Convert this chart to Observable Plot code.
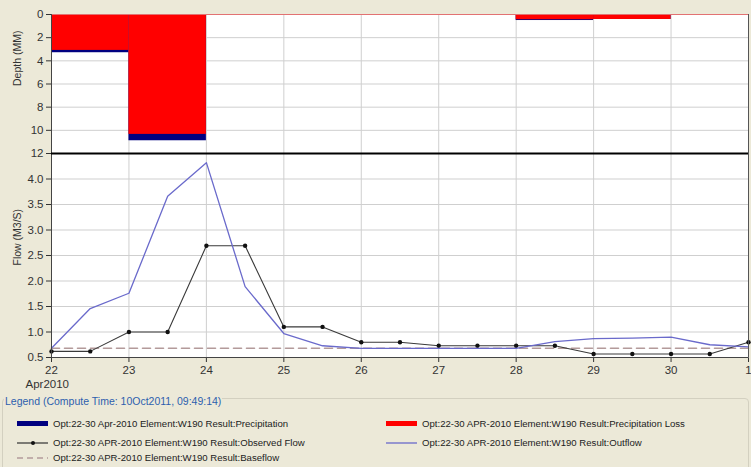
<!DOCTYPE html>
<html><head><meta charset="utf-8">
<script src="https://cdn.jsdelivr.net/npm/d3@7"></script>
<script src="https://cdn.jsdelivr.net/npm/@observablehq/plot@0.6"></script>
<style>
html,body{margin:0;padding:0;background:#ECE9D8;}
#wrap{position:relative;width:751px;height:467px;overflow:hidden;font-family:"Liberation Sans",Arial,sans-serif;}
#top{position:absolute;left:0;top:0;}
#bot{position:absolute;left:0;top:153px;}
#legbox{position:absolute;left:2px;top:398px;width:745px;height:80px;border:1px solid #d3d0c0;border-radius:4px;}
#legtitle{position:absolute;left:4px;top:395px;font-size:10.5px;color:#2d5fae;background:#ECE9D8;padding:0 1px;line-height:13px;}
.item{position:absolute;font-size:9.6px;color:#222;line-height:12px;white-space:nowrap;}
.item svg{position:absolute;left:0;top:2px;}
.item span{position:absolute;left:36px;top:0;}
</style>
</head><body>
<div id="wrap">
  <div id="top"></div>
  <div id="bot"></div>
  <div id="legbox"></div>
  <div id="legtitle">Legend (Compute Time: 10Oct2011, 09:49:14)</div>
  <div id="legend"></div>
</div>
<script>
// ---- data ----
const intervalStarts = ["2010-04-22","2010-04-23","2010-04-24","2010-04-25","2010-04-26","2010-04-27","2010-04-28","2010-04-29","2010-04-30"];
const precipitation  = [3.3, 10.9, 0, 0, 0, 0, 0.52, 0.43, 0];
const precipLoss     = [3.1, 10.35, 0, 0, 0, 0, 0.45, 0.43, 0];

const times = ["2010-04-22T00:00","2010-04-22T12:00","2010-04-23T00:00","2010-04-23T12:00","2010-04-24T00:00","2010-04-24T12:00",
  "2010-04-25T00:00","2010-04-25T12:00","2010-04-26T00:00","2010-04-26T12:00","2010-04-27T00:00","2010-04-27T12:00",
  "2010-04-28T00:00","2010-04-28T12:00","2010-04-29T00:00","2010-04-29T12:00","2010-04-30T00:00","2010-04-30T12:00","2010-05-01T00:00"];
const observedFlow = [0.62,0.62,1.00,1.00,2.69,2.69,1.10,1.10,0.80,0.80,0.73,0.73,0.73,0.73,0.57,0.57,0.57,0.57,0.80];
const outflow      = [0.68,1.46,1.76,3.66,4.32,1.89,0.97,0.73,0.68,0.68,0.68,0.68,0.68,0.81,0.87,0.88,0.90,0.75,0.71];
const baseflow     = [0.68,0.68,0.68,0.68,0.68,0.68,0.68,0.68,0.68,0.68,0.68,0.68,0.68,0.68,0.68,0.68,0.68,0.68,0.68];

const dayTicks = ["2010-04-22","2010-04-23","2010-04-24","2010-04-25","2010-04-26","2010-04-27","2010-04-28","2010-04-29","2010-04-30","2010-05-01"];
const depthTicks = [0,2,4,6,8,10,12];
const flowTicks = [0.5,1.0,1.5,2.0,2.5,3.0,3.5,4.0];

const legendItems = [
  {label:"Opt:22-30 Apr-2010 Element:W190 Result:Precipitation", kind:"bar", color:"#000080", col:0, row:0},
  {label:"Opt:22-30 APR-2010 Element:W190 Result:Observed Flow", kind:"dotline", color:"#333333", col:0, row:1},
  {label:"Opt:22-30 APR-2010 Element:W190 Result:Baseflow", kind:"dash", color:"#b39a9a", col:0, row:2},
  {label:"Opt:22-30 APR-2010 Element:W190 Result:Precipitation Loss", kind:"bar", color:"#ff0000", col:1, row:0},
  {label:"Opt:22-30 APR-2010 Element:W190 Result:Outflow", kind:"line", color:"#6a6acb", col:1, row:1}
];

// ---- derived tables ----
const D = s => new Date(s + (s.length > 10 ? ":00Z" : "T00:00:00Z"));
const bars = intervalStarts.map((s, i) => ({x1: D(s), x2: d3.utcDay.offset(D(s), 1), precip: precipitation[i], loss: precipLoss[i]}));
const flows = times.map((t, i) => ({t: D(t), obs: observedFlow[i], out: outflow[i], base: baseflow[i]}));
const ticks = dayTicks.map(D);
const xDomain = [ticks[0], ticks[ticks.length - 1]];
const font = {fontFamily: '"Liberation Sans", Arial, sans-serif', fontSize: "11.5px", color: "#333", background: "transparent", overflow: "visible"};
const grid = "#cfcfcf";

// ---- top panel (depth) ----
const depthChart = Plot.plot({
  width: 751, height: 160, marginLeft: 51, marginRight: 3, marginTop: 14, marginBottom: 7,
  style: font,
  x: {type: "utc", domain: xDomain, axis: null},
  y: {domain: [0, 12], reverse: true, ticks: depthTicks, tickSize: 5, tickPadding: 3, label: null, tickFormat: d => String(d)},
  marks: [
    Plot.frame({fill: "white", stroke: null}),
    Plot.ruleX(ticks, {stroke: grid}),
    Plot.ruleY(depthTicks.slice(1, -1), {stroke: grid}),
    Plot.rect(bars, {x1: "x1", x2: "x2", y1: 0, y2: "precip", fill: "#000080"}),
    Plot.rect(bars, {x1: "x1", x2: "x2", y1: 0, y2: "loss", fill: "#ff0000"}),
    Plot.ruleY([0], {stroke: "#e27272", strokeWidth: 1.2}),
    Plot.ruleX([xDomain[0]], {stroke: "#444"}),
    Plot.ruleX([xDomain[1]], {stroke: "#555"}),
    Plot.text(["Depth (MM)"], {frameAnchor: "left", dx: -34, dy: 2, rotate: -90, fontSize: 10.5, fill: "#333"})
  ]
});
document.getElementById("top").appendChild(depthChart);

// ---- bottom panel (flow) ----
const flowChart = Plot.plot({
  width: 751, height: 244, marginLeft: 51, marginRight: 3, marginTop: 0, marginBottom: 40,
  style: font,
  x: {type: "utc", domain: xDomain, ticks: ticks, tickFormat: d3.utcFormat("%-d"), tickSize: 5, tickPadding: 3, label: null},
  y: {domain: [0.5, 4.5], ticks: flowTicks, tickFormat: d3.format(".1f"), tickSize: 5, tickPadding: 3, label: null},
  marks: [
    Plot.frame({fill: "white", stroke: null}),
    Plot.ruleX(ticks, {stroke: grid}),
    Plot.ruleY(flowTicks.slice(1), {stroke: grid}),
    Plot.line(flows, {x: "t", y: "base", stroke: "#b39a9a", strokeWidth: 1.6, strokeDasharray: "8,5"}),
    Plot.line(flows, {x: "t", y: "obs", stroke: "#3a3a3a", strokeWidth: 1.1}),
    Plot.dot(flows, {x: "t", y: "obs", r: 2.2, fill: "#111", stroke: null}),
    Plot.line(flows, {x: "t", y: "out", stroke: "#6a6acb", strokeWidth: 1.3}),
    Plot.ruleX([xDomain[0]], {stroke: "#444"}),
    Plot.ruleX([xDomain[1]], {stroke: "#555"}),
    Plot.ruleY([0.5], {stroke: "#444"}),
    Plot.ruleY([4.5], {stroke: "#000", strokeWidth: 2}),
    Plot.text(["Flow (M3/S)"], {frameAnchor: "left", dx: -34, dy: 10, rotate: -90, fontSize: 10.5, fill: "#333"}),
    Plot.text(["Apr2010"], {frameAnchor: "bottom-left", dx: -26, dy: 30, textAnchor: "start", fontSize: 11.5, fill: "#333"})
  ]
});
document.getElementById("bot").appendChild(flowChart);

// ---- legend ----
const leg = document.getElementById("legend");
const colX = [17, 386], rowY = [418, 437, 452];
legendItems.forEach(it => {
  const div = document.createElement("div");
  div.className = "item";
  div.style.left = colX[it.col] + "px";
  div.style.top = rowY[it.row] + "px";
  let sw = "";
  if (it.kind === "bar") sw = `<rect x="0" y="1" width="31" height="5" fill="${it.color}"/>`;
  else if (it.kind === "dotline") sw = `<line x1="0" x2="31" y1="4" y2="4" stroke="${it.color}" stroke-width="1.2"/><circle cx="16" cy="4" r="2" fill="#111"/>`;
  else if (it.kind === "dash") sw = `<line x1="0" x2="31" y1="4" y2="4" stroke="${it.color}" stroke-width="1.4" stroke-dasharray="6,4"/>`;
  else sw = `<line x1="0" x2="31" y1="4" y2="4" stroke="${it.color}" stroke-width="1.3"/>`;
  div.innerHTML = `<svg width="32" height="8">${sw}</svg><span>${it.label}</span>`;
  leg.appendChild(div);
});
</script>
</body></html>
